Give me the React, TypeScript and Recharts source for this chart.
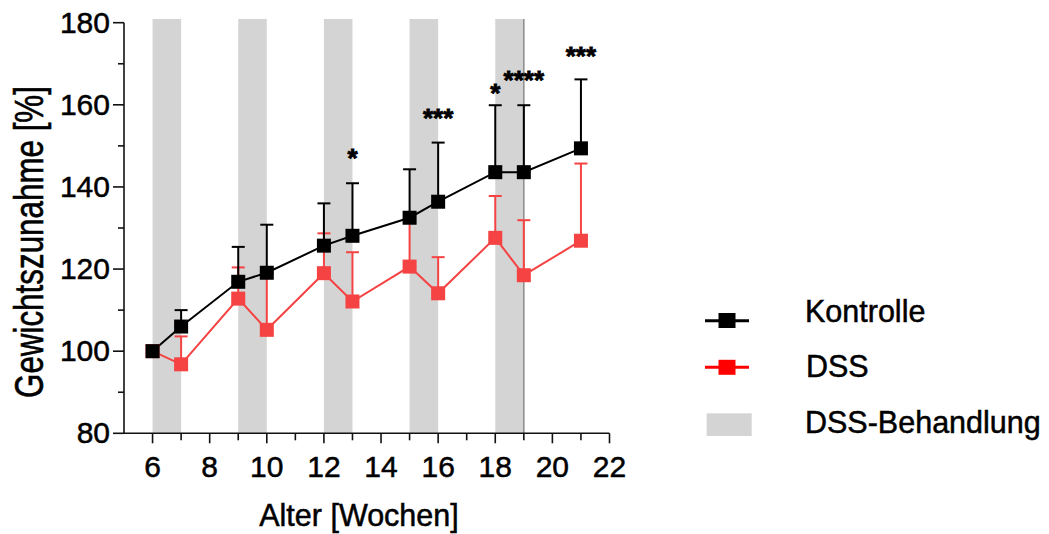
import React from 'react';
import {
  ComposedChart,
  Line,
  XAxis,
  YAxis,
  ErrorBar,
  ReferenceArea,
  ReferenceLine,
  Scatter,
  Legend,
} from 'recharts';

// ---- data ----
const weeks = [6, 7, 9, 10, 12, 13, 15, 16, 18, 19, 21];
const kontrolle = [100, 106.0, 116.9, 119.1, 125.7, 128.1, 132.5, 136.4, 143.6, 143.6, 149.4];
const kontrolleErr = [0, 4.0, 8.5, 11.7, 10.3, 12.8, 11.8, 14.4, 16.3, 16.3, 16.8];
const dss = [100, 96.8, 112.8, 105.2, 119.0, 112.1, 120.6, 114.1, 127.6, 118.5, 126.9];
const dssErr = [0, 6.8, 7.6, 13.8, 9.7, 12.0, 11.4, 8.8, 10.2, 13.4, 18.8];

const treatmentStart = [6, 9, 12, 15, 18];
const treatmentEnd = [7, 10, 13, 16, 19];

const sigWeeks = [13, 16, 18, 19, 21];
const sigLevels = [148.3, 158.1, 164.2, 167.3, 173.2];
const sigLabels = ['*', '***', '*', '****', '***'];

const xTicks = [6, 7, 8, 9, 10, 11, 12, 13, 14, 15, 16, 17, 18, 19, 20, 21, 22];
const yTicks = [80, 90, 100, 110, 120, 130, 140, 150, 160, 170, 180];

const seriesNames = ['Kontrolle', 'DSS', 'DSS-Behandlung'];

// ---- derived tables ----
const data = weeks.map((w, i) => ({
  x: w,
  k: kontrolle[i],
  kErr: [0, kontrolleErr[i]],
  d: dss[i],
  dErr: [0, dssErr[i]],
}));
const sigData = sigWeeks.map((w, i) => ({ x: w, y: sigLevels[i], label: sigLabels[i] }));

const FONT = 'Liberation Sans, Arial, Helvetica, sans-serif';
const BLACK = '#000000';
const RED = '#f54343';
const BAND = '#d4d4d4';

const XTick = (props: any) => {
  const { x, y, payload } = props;
  const v = payload.value;
  const major = v % 2 === 0;
  return (
    <g>
      <line x1={x} x2={x} y1={y} y2={y + (major ? 10 : 7)} stroke="#111" strokeWidth={1.6} />
      {major && (
        <text x={x} y={y + 44} textAnchor="middle" fontSize={30} fontFamily={FONT} fill="#000" stroke="#000" strokeWidth={0.5}>
          {v}
        </text>
      )}
    </g>
  );
};

const YTick = (props: any) => {
  const { x, y, payload } = props;
  const v = payload.value;
  const major = v % 20 === 0;
  return (
    <g>
      <line x1={x - (major ? 11 : 6)} x2={x} y1={y} y2={y} stroke="#111" strokeWidth={1.6} />
      {major && (
        <text x={x - 14} y={y + 10} textAnchor="end" fontSize={30} fontFamily={FONT} fill="#000" stroke="#000" strokeWidth={0.5}>
          {v}
        </text>
      )}
    </g>
  );
};

const squareDot = (color: string, prefix: string) => (p: any) => {
  if (p.cx == null || p.cy == null) return <g key={`${prefix}-${p.index}`} />;
  return (
    <rect
      key={`${prefix}-${p.index}`}
      x={p.cx - 7}
      y={p.cy - 7}
      width={14}
      height={14}
      fill={color}
      stroke="none"
    />
  );
};

const StarShape = (p: any) => (
  <text
    x={p.cx}
    y={p.cy + 14.5}
    textAnchor="middle"
    fontSize={26}
    fontWeight="bold"
    fontFamily={FONT}
    fill="#000"
    stroke="#000"
    strokeWidth={0.8}
  >
    {p.payload.label}
  </text>
);

const legendText = { fontSize: 30.5, fontFamily: FONT, fill: '#000', stroke: '#000', strokeWidth: 0.5 };

const renderLegend = () => (
  <svg width={349} height={170} style={{ overflow: 'visible', display: 'block' }}>
    <line x1={15} x2={59} y1={30.7} y2={30.7} stroke={BLACK} strokeWidth={3} />
    <rect x={28.5} y={23} width={17} height={15} fill={BLACK} />
    <text x={115} y={31.7} {...legendText}>
      {seriesNames[0]}
    </text>
    <line x1={15} x2={59} y1={77.3} y2={77.3} stroke="#ff0000" strokeWidth={3} />
    <rect x={28.5} y={69.8} width={17} height={15} fill="#ff0000" />
    <text x={116} y={87.3} {...legendText}>
      {seriesNames[1]}
    </text>
    <rect x={16.7} y={123.3} width={45} height={22.7} fill={BAND} />
    <text x={115} y={143.3} {...legendText}>
      {seriesNames[2]}
    </text>
  </svg>
);

const yTitle = () => (
  <text
    transform="translate(43.3, 398) rotate(-90) scale(0.784, 1)"
    x={0}
    y={0}
    fontSize={40}
    fontFamily={FONT}
    fill="#000"
    stroke="#000"
    strokeWidth={0.6}
  >
    Gewichtszunahme [%]
  </text>
);

const xTitle = () => (
  <text x={359} y={526} textAnchor="middle" fontSize={30.5} fontFamily={FONT} fill="#000" stroke="#000" strokeWidth={0.5}>
    Alter [Wochen]
  </text>
);

export default function App() {
  return (
    <div style={{ position: 'absolute', left: 0, top: 0, width: 1049, height: 534, background: '#fff' }}>
      <ComposedChart
        width={1049}
        height={534}
        data={data}
        margin={{ top: 22.7, right: 439.5, bottom: 0, left: 0 }}
      >
        {treatmentStart.map((s, i) => (
          <ReferenceArea
            key={`band-${i}`}
            x1={s}
            x2={treatmentEnd[i]}
            y1={80}
            y2={180.9}
            fill={BAND}
            fillOpacity={1}
            stroke="none"
            ifOverflow="visible"
          />
        ))}
        <ReferenceLine
          segment={[
            { x: 19, y: 80 },
            { x: 19, y: 180.9 },
          ]}
          stroke="#8a8a8a"
          strokeWidth={1.5}
          ifOverflow="visible"
        />
        <XAxis
          type="number"
          dataKey="x"
          domain={[5, 22]}
          ticks={xTicks}
          interval={0}
          allowDataOverflow
          height={100.7}
          tickLine={false}
          tickSize={0}
          tickMargin={0}
          axisLine={{ stroke: '#111', strokeWidth: 1.6 }}
          tick={XTick}
          label={xTitle}
        />
        <YAxis
          type="number"
          domain={[80, 180]}
          ticks={yTicks}
          interval={0}
          allowDataOverflow
          width={124}
          tickLine={false}
          tickSize={0}
          tickMargin={0}
          axisLine={{ stroke: '#111', strokeWidth: 1.6 }}
          tick={YTick}
          label={yTitle}
        />
        <Line
          dataKey="d"
          stroke={RED}
          strokeWidth={2}
          dot={squareDot(RED, 'd')}
          activeDot={false}
          isAnimationActive={false}
        >
          <ErrorBar dataKey="dErr" direction="y" width={6.5} stroke={RED} strokeWidth={2} />
        </Line>
        <Line
          dataKey="k"
          stroke={BLACK}
          strokeWidth={2}
          dot={squareDot(BLACK, 'k')}
          activeDot={false}
          isAnimationActive={false}
        >
          <ErrorBar dataKey="kErr" direction="y" width={6.5} stroke={BLACK} strokeWidth={2} />
        </Line>
        <Scatter data={sigData} dataKey="y" shape={StarShape} isAnimationActive={false} />
        <Legend
          layout="horizontal"
          align="center"
          verticalAlign="middle"
          content={renderLegend}
          wrapperStyle={{ position: 'absolute', left: 690, top: 290, width: 349, height: 170 }}
        />
      </ComposedChart>
    </div>
  );
}
